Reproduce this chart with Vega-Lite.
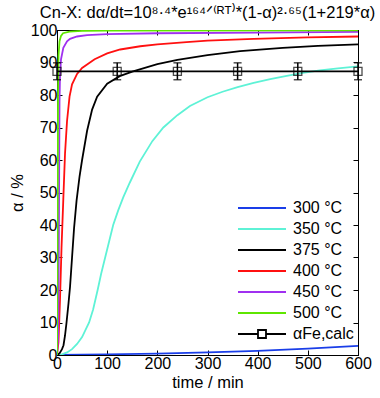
{
  "$schema": "https://vega.github.io/schema/vega-lite/v6.json",
  "autosize": "none",
  "padding": {"left": 57, "top": 30, "right": 22, "bottom": 43},
  "width": 301,
  "height": 325,
  "background": "white",
  "config": {
    "font": "Liberation Sans",
    "view": {"stroke": "black", "strokeWidth": 1},
    "axis": {"grid": false, "domainColor": "black", "tickColor": "black", "labelColor": "black", "titleColor": "black", "labelFont": "Liberation Sans", "titleFont": "Liberation Sans", "labelFontSize": 16, "titleFontSize": 16.5, "titleFontWeight": "normal", "tickSize": -5, "domain": true, "labelFlush": false}
  },
  "title": {"text": "Cn-X: dα/dt=10⁸·⁴*e¹⁶⁴ᐟ⁽ᴿᵀ⁾*(1-α)²·⁶⁵(1+219*α)", "fontSize": 16.5, "fontWeight": "normal", "font": "Liberation Sans", "anchor": "middle", "offset": 1, "color": "black"},
  "datasets": {
    "curves": [
      {"series": "300 °C", "t": 0, "a": 0}, {"series": "300 °C", "t": 100, "a": 0.2}, {"series": "300 °C", "t": 200, "a": 0.45}, {"series": "300 °C", "t": 300, "a": 0.8}, {"series": "300 °C", "t": 400, "a": 1.3}, {"series": "300 °C", "t": 500, "a": 1.95}, {"series": "300 °C", "t": 600, "a": 2.8},
      {"series": "350 °C", "t": 0, "a": 0}, {"series": "350 °C", "t": 10, "a": 0.2}, {"series": "350 °C", "t": 20, "a": 0.8}, {"series": "350 °C", "t": 30, "a": 1.8}, {"series": "350 °C", "t": 40, "a": 3.4}, {"series": "350 °C", "t": 50, "a": 5.5}, {"series": "350 °C", "t": 64, "a": 10}, {"series": "350 °C", "t": 72, "a": 14}, {"series": "350 °C", "t": 81, "a": 20}, {"series": "350 °C", "t": 88, "a": 25}, {"series": "350 °C", "t": 96, "a": 30}, {"series": "350 °C", "t": 104, "a": 35}, {"series": "350 °C", "t": 112, "a": 40}, {"series": "350 °C", "t": 122, "a": 44.5}, {"series": "350 °C", "t": 132, "a": 48.5}, {"series": "350 °C", "t": 145, "a": 53}, {"series": "350 °C", "t": 165, "a": 59.5}, {"series": "350 °C", "t": 190, "a": 65.8}, {"series": "350 °C", "t": 212, "a": 70}, {"series": "350 °C", "t": 240, "a": 73.8}, {"series": "350 °C", "t": 265, "a": 76.6}, {"series": "350 °C", "t": 300, "a": 79.3}, {"series": "350 °C", "t": 330, "a": 81}, {"series": "350 °C", "t": 360, "a": 82.4}, {"series": "350 °C", "t": 392, "a": 83.7}, {"series": "350 °C", "t": 425, "a": 84.9}, {"series": "350 °C", "t": 458, "a": 85.9}, {"series": "350 °C", "t": 490, "a": 86.8}, {"series": "350 °C", "t": 524, "a": 87.6}, {"series": "350 °C", "t": 560, "a": 88.2}, {"series": "350 °C", "t": 600, "a": 88.8},
      {"series": "375 °C", "t": 0, "a": 0}, {"series": "375 °C", "t": 5, "a": 0.5}, {"series": "375 °C", "t": 10, "a": 1.8}, {"series": "375 °C", "t": 13, "a": 3}, {"series": "375 °C", "t": 16, "a": 6}, {"series": "375 °C", "t": 19, "a": 10}, {"series": "375 °C", "t": 23, "a": 16}, {"series": "375 °C", "t": 26, "a": 21}, {"series": "375 °C", "t": 30, "a": 30}, {"series": "375 °C", "t": 34, "a": 39}, {"series": "375 °C", "t": 39, "a": 47.5}, {"series": "375 °C", "t": 45, "a": 55}, {"series": "375 °C", "t": 50, "a": 60}, {"series": "375 °C", "t": 60, "a": 69}, {"series": "375 °C", "t": 70, "a": 75.5}, {"series": "375 °C", "t": 80, "a": 79.5}, {"series": "375 °C", "t": 100, "a": 83.5}, {"series": "375 °C", "t": 125, "a": 85.8}, {"series": "375 °C", "t": 150, "a": 87.2}, {"series": "375 °C", "t": 200, "a": 89.5}, {"series": "375 °C", "t": 240, "a": 90.8}, {"series": "375 °C", "t": 300, "a": 92.3}, {"series": "375 °C", "t": 365, "a": 93.5}, {"series": "375 °C", "t": 450, "a": 94.5}, {"series": "375 °C", "t": 520, "a": 95.1}, {"series": "375 °C", "t": 600, "a": 95.6},
      {"series": "400 °C", "t": 0, "a": 0}, {"series": "400 °C", "t": 3, "a": 4}, {"series": "400 °C", "t": 6, "a": 17}, {"series": "400 °C", "t": 9, "a": 33}, {"series": "400 °C", "t": 12.6, "a": 48}, {"series": "400 °C", "t": 16, "a": 62}, {"series": "400 °C", "t": 20, "a": 72}, {"series": "400 °C", "t": 25, "a": 79.5}, {"series": "400 °C", "t": 30, "a": 83.3}, {"series": "400 °C", "t": 40, "a": 86.5}, {"series": "400 °C", "t": 50, "a": 88.3}, {"series": "400 °C", "t": 75, "a": 91}, {"series": "400 °C", "t": 100, "a": 92.8}, {"series": "400 °C", "t": 126, "a": 94}, {"series": "400 °C", "t": 166, "a": 95}, {"series": "400 °C", "t": 200, "a": 95.6}, {"series": "400 °C", "t": 258, "a": 96.3}, {"series": "400 °C", "t": 300, "a": 96.7}, {"series": "400 °C", "t": 392, "a": 97.3}, {"series": "400 °C", "t": 500, "a": 97.7}, {"series": "400 °C", "t": 600, "a": 98},
      {"series": "450 °C", "t": 0, "a": 0}, {"series": "450 °C", "t": 2, "a": 5}, {"series": "450 °C", "t": 3, "a": 15}, {"series": "450 °C", "t": 4, "a": 45}, {"series": "450 °C", "t": 5, "a": 78}, {"series": "450 °C", "t": 6, "a": 86}, {"series": "450 °C", "t": 8, "a": 91}, {"series": "450 °C", "t": 12.6, "a": 94.5}, {"series": "450 °C", "t": 20, "a": 96.5}, {"series": "450 °C", "t": 26, "a": 97.3}, {"series": "450 °C", "t": 40, "a": 98}, {"series": "450 °C", "t": 60, "a": 98.4}, {"series": "450 °C", "t": 100, "a": 98.7}, {"series": "450 °C", "t": 200, "a": 99}, {"series": "450 °C", "t": 400, "a": 99.2}, {"series": "450 °C", "t": 600, "a": 99.4},
      {"series": "500 °C", "t": 0, "a": 0}, {"series": "500 °C", "t": 1, "a": 30}, {"series": "500 °C", "t": 2, "a": 80}, {"series": "500 °C", "t": 3, "a": 92}, {"series": "500 °C", "t": 5, "a": 96.5}, {"series": "500 °C", "t": 8, "a": 98.2}, {"series": "500 °C", "t": 12, "a": 99}, {"series": "500 °C", "t": 25, "a": 99.5}, {"series": "500 °C", "t": 50, "a": 99.7}, {"series": "500 °C", "t": 100, "a": 99.8}, {"series": "500 °C", "t": 600, "a": 99.9},
      {"series": "αFe,calc", "t": 0, "a": 87.3}, {"series": "αFe,calc", "t": 600, "a": 87.3}
    ],
    "fe": [
      {"t": 0, "a": 87.3, "lo": 84.7, "hi": 89.9},
      {"t": 120, "a": 87.3, "lo": 84.7, "hi": 89.9},
      {"t": 240, "a": 87.3, "lo": 84.7, "hi": 89.9},
      {"t": 360, "a": 87.3, "lo": 84.7, "hi": 89.9},
      {"t": 480, "a": 87.3, "lo": 84.7, "hi": 89.9},
      {"t": 600, "a": 87.3, "lo": 84.7, "hi": 89.9}
    ]
  },
  "layer": [
    {
      "data": {"name": "curves"},
      "mark": {"type": "line", "strokeWidth": 1.8, "clip": true},
      "encoding": {
        "x": {"field": "t", "type": "quantitative", "scale": {"domain": [0, 600], "nice": false}, "axis": {"title": "time / min", "values": [0, 100, 200, 300, 400, 500, 600], "labelPadding": 5, "titlePadding": 3}},
        "y": {"field": "a", "type": "quantitative", "scale": {"domain": [0, 100], "nice": false}, "axis": {"title": "α / %", "values": [0, 10, 20, 30, 40, 50, 60, 70, 80, 90, 100], "labelPadding": 5, "titlePadding": 5}},
        "color": {"field": "series", "type": "nominal", "sort": null,
          "scale": {"domain": ["300 °C", "350 °C", "375 °C", "400 °C", "450 °C", "500 °C", "αFe,calc"], "range": ["#1a3ee8", "#5ef2d6", "#000000", "#ff1010", "#a030f0", "#5ee600", "#000000"]},
          "legend": {"title": null, "orient": "none", "legendX": 212, "legendY": 169, "padding": 0, "symbolSize": 256, "symbolStrokeWidth": 1.8, "labelFontSize": 16, "labelFont": "Liberation Sans", "labelColor": "black", "labelOffset": 6, "rowPadding": 4, "labelLimit": 200,
            "encode": {"symbols": {"update": {"shape": {"signal": "datum.value === 'αFe,calc' ? 'M-5,0H-2.5M-1.5,0H1M-2.5,-0.5H-1.5V0.5H-2.5Z' : 'M-5,0H1'"}, "fill": {"value": "transparent"}}}}}},
        "detail": {"field": "series"},
        "order": {"field": "t", "type": "quantitative"}
      }
    },
    {
      "data": {"name": "fe"},
      "mark": {"type": "rule", "color": "black", "strokeWidth": 1.5},
      "encoding": {
        "x": {"field": "t", "type": "quantitative", "axis": null},
        "y": {"field": "lo", "type": "quantitative", "axis": null},
        "y2": {"field": "hi"}
      }
    },
    {
      "data": {"name": "fe"},
      "mark": {"type": "tick", "orient": "horizontal", "color": "black", "size": 8, "thickness": 1.5},
      "encoding": {
        "x": {"field": "t", "type": "quantitative", "axis": null},
        "y": {"field": "lo", "type": "quantitative", "axis": null}
      }
    },
    {
      "data": {"name": "fe"},
      "mark": {"type": "tick", "orient": "horizontal", "color": "black", "size": 8, "thickness": 1.5},
      "encoding": {
        "x": {"field": "t", "type": "quantitative", "axis": null},
        "y": {"field": "hi", "type": "quantitative", "axis": null}
      }
    },
    {
      "data": {"name": "fe"},
      "mark": {"type": "point", "shape": "square", "filled": false, "color": "black", "size": 64, "strokeWidth": 1.3, "clip": false},
      "encoding": {
        "x": {"field": "t", "type": "quantitative", "axis": {"orient": "top", "labels": false, "title": null, "values": [0, 100, 200, 300, 400, 500, 600]}},
        "y": {"field": "a", "type": "quantitative", "axis": {"orient": "right", "labels": false, "title": null, "values": [0, 10, 20, 30, 40, 50, 60, 70, 80, 90, 100]}}
      }
    }
  ],
  "resolve": {"axis": {"x": "independent", "y": "independent"}}
}
